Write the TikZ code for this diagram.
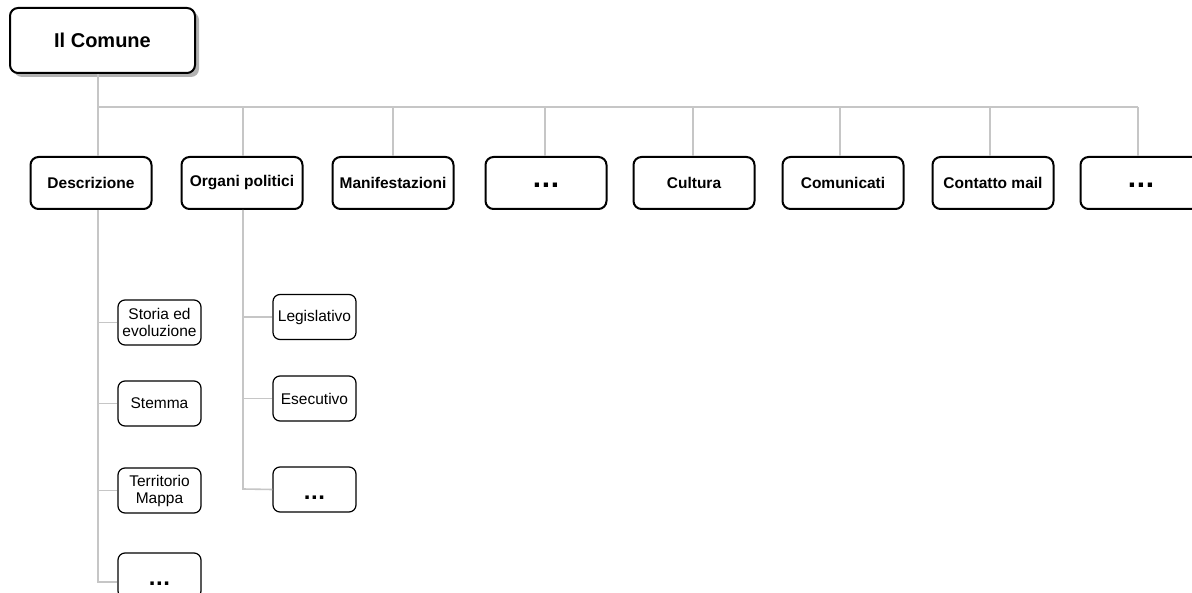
\documentclass[tikz,border=0pt]{standalone}
\usepackage{fontspec}
\setmainfont{Liberation Sans}
\usetikzlibrary{shadows}
\newcommand{\topdots}{\rule{0pt}{10pt}{\fontsize{30}{30}\selectfont\bfseries .\hspace{0.6pt}.\hspace{0.6pt}.}}
\newcommand{\subdots}{\rule{0pt}{20pt}{\fontsize{24}{24}\selectfont\bfseries .\hspace{0.6pt}.\hspace{0.6pt}.}}
\begin{document}
\begin{tikzpicture}[x=1pt,y=-1pt,
  conn/.style={draw=gray!45,line width=1.6pt},
  rootbox/.style={draw=black,fill=white,line width=2pt,rounded corners=8pt,minimum width=185pt,minimum height=65pt,font=\fontsize{20}{22}\selectfont\bfseries,inner sep=0pt,
    drop shadow={shadow xshift=4pt,shadow yshift=-4pt,fill=gray!60,opacity=1}},
  topbox/.style={draw=black,fill=white,line width=2pt,rounded corners=8pt,minimum width=121pt,minimum height=52pt,font=\fontsize{15.5}{17}\selectfont\bfseries,inner sep=0pt},
  subbox/.style={draw=black,fill=white,line width=1.2pt,rounded corners=7pt,minimum width=83pt,minimum height=45pt,font=\fontsize{15.5}{17}\selectfont,align=center,inner sep=0pt}]
\useasboundingbox (0,0) rectangle (1192,593);
\fill[white] (0,0) rectangle (1192,593);
% coordinates
\coordinate (b1) at (98,107);
\coordinate (b2) at (243,107);
\coordinate (b3) at (393,107);
\coordinate (b4) at (545,107);
\coordinate (b5) at (693,107);
\coordinate (b6) at (840,107);
\coordinate (b7) at (990,107);
\coordinate (b8) at (1138,107);
\coordinate (t1) at (98,582);
\coordinate (t2) at (243,489);
% nodes
\node[rootbox] (root) at (102.5,40.5) {Il Comune};
\node[topbox] (desc) at (91,183) {Descrizione};
\node[topbox] (org) at (242,183) {Organi politici};
\node[topbox] (man) at (393,183) {Manifestazioni};
\node[topbox] (dotsA) at (546,183) {\topdots};
\node[topbox] (cult) at (694,183) {Cultura};
\node[topbox] (com) at (843,183) {Comunicati};
\node[topbox] (cont) at (993,183) {Contatto mail};
\node[topbox] (dotsB) at (1141,183) {\topdots};
\node[subbox] (storia) at (159.5,322.5) {Storia ed\\evoluzione};
\node[subbox] (stemma) at (159.5,403.5) {Stemma};
\node[subbox] (terr) at (159.5,490.5) {Territorio\\Mappa};
\node[subbox] (dsub) at (159.5,575.5) {\subdots};
\node[subbox] (leg) at (314.5,317) {Legislativo};
\node[subbox] (ese) at (314.5,398.5) {Esecutivo};
\node[subbox] (osub) at (314.5,489.5) {\subdots};
% connectors
\draw[conn] (root.south -| b1) -- (b1) -- (b8);
\foreach \b/\n in {b1/desc,b2/org,b3/man,b4/dotsA,b5/cult,b6/com,b7/cont,b8/dotsB}
  \draw[conn] (\b) -- (\b |- \n.north);
\draw[conn] (desc.south -| b1) -- (t1) -- (t1 -| dsub.west);
\draw[conn] (storia.west -| b1) -- (storia.west);
\draw[conn] (stemma.west -| b1) -- (stemma.west);
\draw[conn] (terr.west -| b1) -- (terr.west);
\draw[conn] (org.south -| b2) -- (t2) -- (osub.west);
\draw[conn] (leg.west -| b2) -- (leg.west);
\draw[conn] (ese.west -| b2) -- (ese.west);
\end{tikzpicture}
\end{document}
